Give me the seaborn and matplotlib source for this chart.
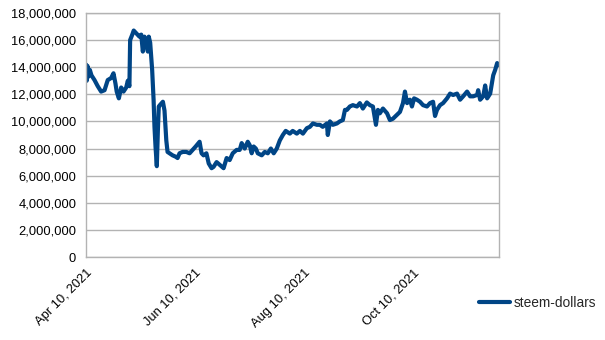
import matplotlib
matplotlib.use("Agg")
import matplotlib.pyplot as plt
import matplotlib.dates as mdates
from matplotlib.ticker import FuncFormatter
import numpy as np
import pandas as pd
import seaborn as sns

# Days elapsed since 10 April 2021 for each sample
days_since_start = [
    0, 0.45, 0.84, 1.4, 2.2, 3.1, 4.8, 6.6, 8.5, 10.4, 12.2, 14.1, 15.4, 16.5,
    17.2, 18.4, 19.7, 21, 22.5, 23.4, 24.3, 24.7, 25.9, 26.7, 28.1, 29.9, 30.9,
    31.8, 32.7, 33.7, 34.6, 35.1, 35.9, 37, 37.8, 38.3, 38.9, 39.6, 40.2, 40.7,
    41.3, 43, 43.9, 44.9, 45.6, 46.7, 48.4, 50.1, 51.2, 52.3, 54, 56.1, 57.9,
    59.6, 61.3, 63.5, 64.6, 65.7, 67.3, 68.6, 70.2, 71.3, 73, 74.7, 76.9, 78.6,
    80.3, 82, 84.2, 85.9, 87, 88.7, 90.4, 91.5, 92.6, 93.7, 94.9, 96, 98.2,
    99.9, 101.6, 103.3, 104.9, 106.6, 108.3, 110, 111.6, 113.9, 115.5, 117.8,
    119.5, 121.2, 123.4, 125.1, 126.8, 129, 130.7, 132.3, 134.6, 135.1, 136.3,
    137.9, 140.2, 141.8, 143.5, 144.7, 145.8, 147.4, 149.1, 151.4, 153, 154.7,
    156.9, 158.6, 160.3, 162, 163.1, 164.2, 165.9, 168.2, 169.8, 171.5, 173.8,
    175.4, 177.1, 178.2, 179.4, 181, 182.1, 183.3, 184.9, 186.6, 188.3, 190.5,
    192.2, 193.9, 195, 196.1, 197.8, 199.5, 201.7, 203.4, 205.1, 207.3, 209,
    210.7, 212.9, 214.6, 216.3, 218.5, 219.1, 220.2, 221.9, 223, 224.1, 225.8,
    227.5, 228.6, 229.7, 230.8,
]

# Supply in millions
supply_millions = [
    14.2, 13.0, 14.1, 13.3, 13.8, 13.4, 13.05, 12.6, 12.2, 12.3, 13.05, 13.2,
    13.55, 12.8, 12.2, 11.7, 12.5, 12.2, 12.5, 13.0, 12.6, 16.0, 16.4, 16.7,
    16.5, 16.25, 16.4, 15.15, 16.25, 15.8, 15.15, 16.25, 15.8, 13.8, 11.6, 9.6,
    8.1, 6.7, 9.35, 11.1, 11.2, 11.45, 10.8, 8.6, 7.75, 7.65, 7.5, 7.4, 7.3,
    7.65, 7.75, 7.75, 7.65, 7.9, 8.15, 8.5, 7.65, 7.5, 7.65, 6.9, 6.55, 6.65,
    7.0, 6.8, 6.55, 7.3, 7.15, 7.65, 7.9, 7.9, 8.4, 8.0, 8.5, 8.25, 7.65, 8.15,
    8.0, 7.65, 7.5, 7.75, 7.65, 8.0, 7.65, 8.0, 8.6, 9.0, 9.3, 9.1, 9.3, 9.1,
    9.3, 9.1, 9.5, 9.6, 9.85, 9.75, 9.75, 9.6, 9.85, 9.0, 10.0, 9.75, 9.85,
    10.0, 10.1, 10.85, 10.85, 11.1, 11.2, 11.1, 11.35, 10.95, 11.4, 11.2, 11.1,
    9.75, 10.85, 10.6, 10.95, 10.6, 10.1, 10.2, 10.5, 10.7, 11.35, 12.2, 11.35,
    11.6, 11.1, 11.7, 11.6, 11.45, 11.2, 11.1, 11.35, 11.45, 10.4, 10.85, 11.2,
    11.35, 11.7, 12.05, 11.95, 12.05, 11.6, 11.85, 12.2, 11.85, 11.85, 11.95,
    12.3, 11.6, 11.85, 12.65, 11.7, 12.05, 13.4, 13.8, 14.3, 14.15,
]

start_date = "2021-04-10"
tick_dates = ["2021-04-10", "2021-06-10", "2021-08-10", "2021-10-10"]
series_name = "steem-dollars"

df = pd.DataFrame({
    "date": pd.Timestamp(start_date) + pd.to_timedelta(days_since_start, unit="D"),
    "value": np.array(supply_millions) * 1e6,
})

sns.set_style("white")
plt.rcParams["font.family"] = ["Liberation Sans", "DejaVu Sans"]

fig = plt.figure(figsize=(6.05, 3.4), dpi=100)
ax = fig.add_axes([0.142, 0.244, 0.683, 0.718])

line_color = "#004586"
grid_color = "#b3b3b3"

sns.lineplot(data=df, x="date", y="value", ax=ax, color=line_color,
             linewidth=3.0, label=series_name, legend=False)

ax.set_xlim(df["date"].iloc[0], df["date"].iloc[-1])
ax.set_ylim(0, 18e6)
ax.set_yticks(np.arange(0, 18e6 + 1, 2e6))
ax.yaxis.set_major_formatter(FuncFormatter(lambda v, p: f"{int(v):,}"))
ax.set_xticks(pd.to_datetime(tick_dates))
ax.xaxis.set_major_formatter(mdates.DateFormatter("%b %d, %Y"))

ax.grid(axis="y", color=grid_color, linewidth=1.0)
ax.grid(axis="x", visible=False)
ax.set_axisbelow(True)
for s in ax.spines.values():
    s.set_color(grid_color)
    s.set_linewidth(1.0)

ax.tick_params(axis="both", which="major", length=5, width=1.0,
               color=grid_color, labelsize=9.3, labelcolor="#000000",
               direction="out")
ax.tick_params(axis="y", pad=2)
ax.tick_params(axis="x", pad=2)
for lbl in ax.get_xticklabels():
    lbl.set_rotation(45)
    lbl.set_ha("right")
    lbl.set_va("top")
    lbl.set_rotation_mode("anchor")

ax.set_xlabel("")
ax.set_ylabel("")

handles, labels = ax.get_legend_handles_labels()
fig.legend(handles, labels, loc="center left", bbox_to_anchor=(0.772, 0.108),
           frameon=False, fontsize=9.9, handlelength=2.2, handletextpad=0.3)

fig.savefig("out.png", dpi=100)
